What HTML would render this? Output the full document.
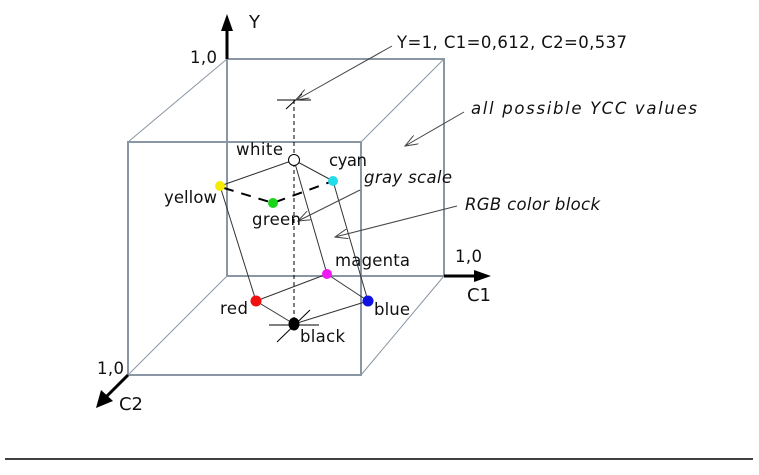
<!DOCTYPE html>
<html><head><meta charset="utf-8"><style>body{margin:0;background:#fff}svg{display:block}</style></head><body>
<svg width="759" height="475" viewBox="0 0 759 475" xmlns="http://www.w3.org/2000/svg" font-family="DejaVu Sans, Liberation Sans, sans-serif" font-size="16.5" fill="#111">
<defs>
<marker id="v" markerWidth="14" markerHeight="10" refX="13" refY="5" orient="auto" markerUnits="userSpaceOnUse"><path d="M0,0 L13,5 L0,10" fill="none" stroke="#444" stroke-width="1"/></marker>
</defs>
<g stroke="#8a96a3" fill="none">
<rect x="227" y="59" width="217" height="217" stroke-width="2"/>
<rect x="128" y="142" width="233" height="233" stroke-width="2"/>
<g stroke-width="1"><line x1="227" y1="59" x2="128" y2="142"/><line x1="444" y1="59" x2="361" y2="142"/><line x1="444" y1="276" x2="361" y2="375"/><line x1="227" y1="276" x2="128" y2="375"/></g>
</g>
<g stroke="#000" stroke-width="3"><line x1="227" y1="59" x2="227" y2="28"/><line x1="444" y1="276" x2="478" y2="276"/><line x1="128" y1="375" x2="104" y2="399"/></g>
<polygon points="227,14 221,31 233,31" fill="#000"/>
<polygon points="491,276 474,270 474,282" fill="#000"/>
<polygon points="96,408 101,390 113,401" fill="#000"/>
<line x1="294" y1="100" x2="294" y2="324" stroke="#000" stroke-dasharray="4,3"/>
<g stroke="#000" stroke-width="1"><line x1="277" y1="100" x2="311" y2="100"/><line x1="286" y1="109" x2="302" y2="94"/><line x1="269" y1="325" x2="319" y2="325"/><line x1="277" y1="342" x2="310" y2="310"/></g>
<g stroke="#333" stroke-width="1" fill="none">
<line x1="294" y1="160" x2="220" y2="186"/><line x1="294" y1="160" x2="333" y2="181"/>
<line x1="220" y1="186" x2="256" y2="301"/><line x1="333" y1="181" x2="368" y2="301"/>
<line x1="294" y1="160" x2="327" y2="274"/><line x1="256" y1="301" x2="327" y2="274"/>
<line x1="327" y1="274" x2="368" y2="301"/><line x1="256" y1="301" x2="294" y2="324"/><line x1="294" y1="324" x2="368" y2="301"/>
</g>
<polyline points="224,188 273,203 333,181" fill="none" stroke="#000" stroke-width="2" stroke-dasharray="10,8"/>
<g stroke="#444" stroke-width="1" fill="none" marker-end="url(#v)">
<line x1="392" y1="46" x2="296" y2="100"/><line x1="464" y1="112" x2="405" y2="146"/>
<line x1="360" y1="190" x2="298" y2="221"/><line x1="457" y1="206" x2="335" y2="237"/>
</g>
<circle cx="294" cy="160" r="5.5" fill="#fff" stroke="#000"/>
<circle cx="220" cy="186" r="5" fill="#f7ec00"/>
<circle cx="333" cy="181" r="5" fill="#22dcea"/>
<circle cx="273" cy="203" r="5" fill="#19d419"/>
<circle cx="327" cy="274" r="5" fill="#f018f0"/>
<circle cx="256" cy="301" r="5.5" fill="#f01010"/>
<circle cx="368" cy="301" r="5.5" fill="#1010e0"/>
<ellipse cx="294" cy="324" rx="5.5" ry="6.5" fill="#000"/>
<text x="249" y="28" font-size="18">Y</text>
<text x="190" y="63" textLength="27">1,0</text>
<text x="397" y="48" textLength="230">Y=1, C1=0,612, C2=0,537</text>
<text x="471" y="114" font-style="italic" textLength="226">all possible YCC values</text>
<text x="236" y="155" textLength="47">white</text>
<text x="329" y="166" textLength="38">cyan</text>
<text x="364" y="183" font-style="italic" textLength="88">gray scale</text>
<text x="164" y="203" textLength="53">yellow</text>
<text x="465" y="210" font-style="italic" textLength="135">RGB color block</text>
<text x="252" y="225" textLength="49">green</text>
<text x="455" y="262" textLength="27">1,0</text>
<text x="335" y="266" textLength="75">magenta</text>
<text x="467" y="301" font-size="18" textLength="24">C1</text>
<text x="220" y="314" textLength="28">red</text>
<text x="374" y="315" textLength="36">blue</text>
<text x="300" y="342" textLength="45">black</text>
<text x="97" y="374" textLength="27">1,0</text>
<text x="119" y="410" font-size="18" textLength="24">C2</text>
<line x1="5" y1="459" x2="753" y2="459" stroke="#000" stroke-width="1.5"/>
</svg>
</body></html>
